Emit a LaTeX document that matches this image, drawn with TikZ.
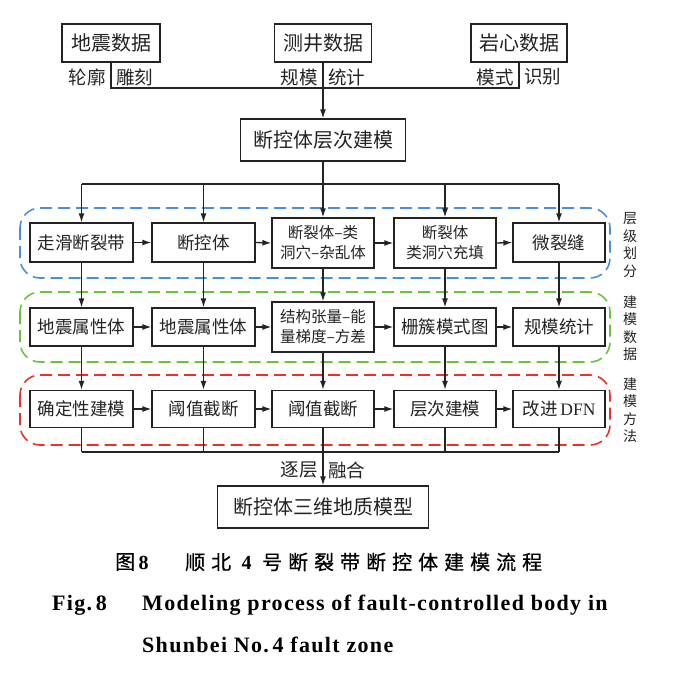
\documentclass[tikz,border=0pt]{standalone}
\usepackage{fontspec}
\setmainfont{Liberation Serif}
\newfontfamily\cjk{Noto Sans CJK SC}
\newfontfamily\cjkcap[LetterSpace=30,FakeBold=0.6]{Noto Sans CJK SC}
\newfontfamily\engcap[LetterSpace=6]{Liberation Serif}
\usetikzlibrary{arrows.meta}
\definecolor{fblue}{RGB}{74,144,217}
\definecolor{fgreen}{RGB}{104,196,60}
\definecolor{fred}{RGB}{232,52,40}
\definecolor{ink}{RGB}{35,35,35}
\begin{document}
\begin{tikzpicture}[x=1pt,y=-1pt,
  box/.style={draw=ink,line width=1.3pt,inner sep=0pt,align=center,text=ink,
    font=\cjk\fontsize{17.5}{20}\selectfont},
  bigbox/.style={box,font=\cjk\fontsize{20}{22}\selectfont},
  twoline/.style={box,font=\cjk\fontsize{15.5}{20}\selectfont},
  lab/.style={inner sep=0pt,text=ink,font=\cjk\fontsize{18.5}{20}\selectfont},
  side/.style={inner sep=0pt,align=center,text=ink,font=\cjk\fontsize{14}{17.5}\selectfont},
  conn/.style={draw=ink,line width=1.3pt},
  arr/.style={conn,-{Latex[length=9pt,width=6pt]}},
  frame/.style={line width=1.6pt,dash pattern=on 12pt off 6pt,rounded corners=20pt}]
\useasboundingbox (0,0) rectangle (680,672);

% top inputs
\node[bigbox,minimum width=98pt,minimum height=38pt] (dz) at (111,43) {地震数据};
\node[bigbox,minimum width=97pt,minimum height=38pt] (cj) at (323,43) {测井数据};
\node[bigbox,minimum width=96pt,minimum height=38pt] (yx) at (519,43) {岩心数据};
\node[lab,anchor=east] (l1) at (106,77) {轮廓};
\node[lab,anchor=west] (l2) at (116,77) {雕刻};
\node[lab,anchor=east] (l3) at (318,77) {规模};
\node[lab,anchor=west] (l4) at (328,77) {统计};
\node[lab,anchor=east] (l5) at (514,77) {模式};
\node[lab,anchor=west] (l6) at (524,77) {识别};
\coordinate (hb) at (323,88);

\node[bigbox,minimum width=165pt,minimum height=42pt] (mid) at (323,140) {断控体层次建模};
\draw[conn] (dz.south) -- (dz.south |- hb) -- (yx.south |- hb) -- (yx.south);
\draw[arr] (cj.south) -- (mid.north);

% frames
\draw[frame,fblue] (20,208) rectangle (610,278);
\draw[frame,fgreen] (20,292) rectangle (610,362);
\draw[frame,fred] (20,375) rectangle (610,445);
\node[side] (s1) at (630,245) {层\\级\\划\\分};
\node[side] (s2) at (630,328) {建\\模\\数\\据};
\node[side] (s3) at (630,410) {建\\模\\方\\法};

% row 1
\node[box,minimum width=103pt,minimum height=39pt] (a1) at (81.5,242.5) {走滑断裂带};
\node[box,minimum width=103pt,minimum height=39pt] (a2) at (203.5,242.5) {断控体};
\node[twoline,minimum width=102pt,minimum height=50pt] (a3) at (323,243) {断裂体–类\\洞穴–杂乱体};
\node[twoline,minimum width=102pt,minimum height=50pt] (a4) at (445,243) {断裂体\\类洞穴充填};
\node[box,minimum width=92pt,minimum height=39pt] (a5) at (559,242.5) {微裂缝};

% row 2
\node[box,minimum width=103pt,minimum height=38pt] (b1) at (81.5,327) {地震属性体};
\node[box,minimum width=103pt,minimum height=38pt] (b2) at (203.5,327) {地震属性体};
\node[twoline,minimum width=102pt,minimum height=50pt] (b3) at (323,327) {结构张量–能\\量梯度–方差};
\node[box,minimum width=102pt,minimum height=38pt] (b4) at (445,327) {栅簇模式图};
\node[box,minimum width=92pt,minimum height=38pt] (b5) at (559,327) {规模统计};

% row 3
\node[box,minimum width=103pt,minimum height=37pt] (c1) at (81.5,409) {确定性建模};
\node[box,minimum width=103pt,minimum height=37pt] (c2) at (203.5,409) {阈值截断};
\node[box,minimum width=102pt,minimum height=37pt] (c3) at (323,409) {阈值截断};
\node[box,minimum width=102pt,minimum height=37pt] (c4) at (445,409) {层次建模};
\node[box,minimum width=92pt,minimum height=37pt] (c5) at (559,409) {改进\,{\rmfamily DFN}};

% bottom
\node[bigbox,minimum width=211pt,minimum height=42pt] (fin) at (323,507) {断控体三维地质模型};
\node[lab,anchor=east] (l7) at (318,470) {逐层};
\node[lab,anchor=west] (l8) at (328,470) {融合};

% branch from mid
\coordinate (br) at (323,184);
\draw[conn] (mid.south) -- (br);
\draw[conn] (a1.north |- br) -- (a5.north |- br);
\foreach \n in {a1,a2,a3,a4,a5} \draw[arr] (\n.north |- br) -- (\n.north);
% row arrows
\foreach \p/\q in {a1/a2,a2/a3,a3/a4,a4/a5,b1/b2,b2/b3,b3/b4,b4/b5,c1/c2,c2/c3,c3/c4,c4/c5}
  \draw[arr] (\p.east) -- (\q.west);
\foreach \i in {1,...,5} {
  \draw[arr] (a\i.south) -- (b\i.north);
  \draw[arr] (b\i.south) -- (c\i.north);
}
% merge
\coordinate (mb) at (323,452);
\foreach \n in {c1,c2,c4,c5} \draw[conn] (\n.south) -- (\n.south |- mb);
\draw[conn] (c1.south |- mb) -- (c5.south |- mb);
\draw[arr] (c3.south) -- (fin.north);

% captions
\node[anchor=west,inner sep=0pt,font=\cjkcap\fontsize{20}{22}\selectfont] (k1) at (115,562) {图\,{\rmfamily\bfseries 8}};
\node[anchor=west,inner sep=0pt,font=\cjkcap\fontsize{20}{22}\selectfont] (k2) at (185,562) {顺北 {\rmfamily\bfseries 4} 号断裂带断控体建模流程};
\node[anchor=west,inner sep=0pt,font=\engcap\bfseries\fontsize{22}{24}\selectfont] (e1) at (52,605) {Fig.\,8};
\node[anchor=west,inner sep=0pt,font=\engcap\bfseries\fontsize{22}{24}\selectfont] (e2) at (142,605) {Modeling process of fault-controlled body in};
\node[anchor=west,inner sep=0pt,font=\engcap\bfseries\fontsize{22}{24}\selectfont] (e3) at (142,645) {Shunbei No.\,4 fault zone};
\end{tikzpicture}
\end{document}
